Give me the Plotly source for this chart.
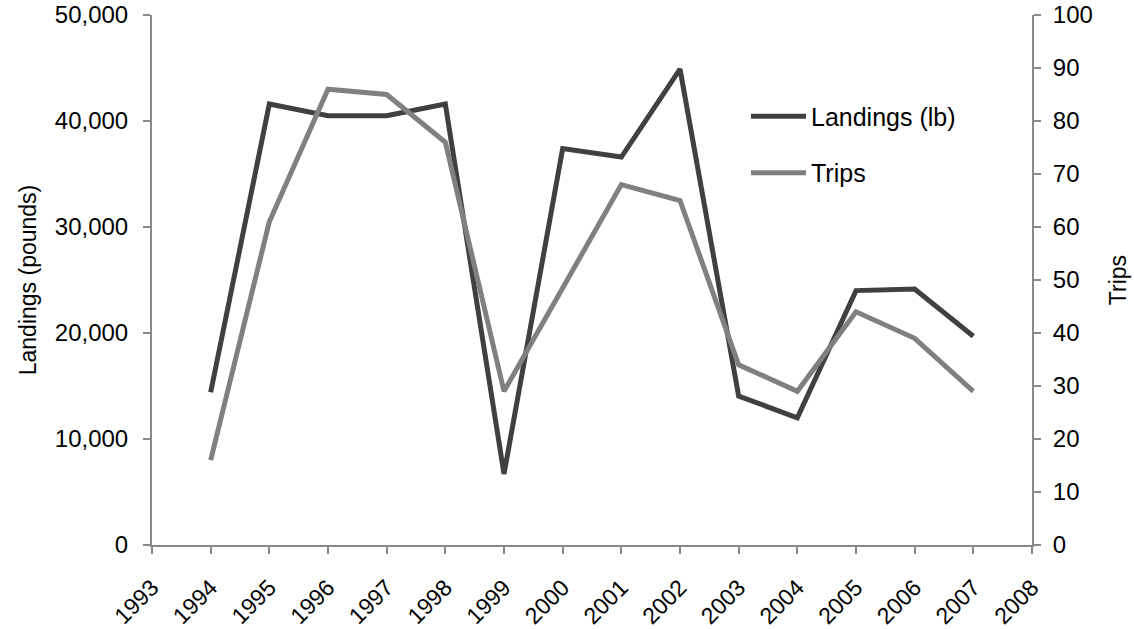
import plotly.graph_objects as go

years = list(range(1994, 2008))
landings = [14400, 41600, 40500, 40500, 41600, 6700, 37400, 36600, 44900, 14050, 12000, 24000, 24150, 19700]
trips = [16, 61, 86, 85, 76, 29, 48.5, 68, 65, 34, 29, 44, 39, 29]
x_ticks = list(range(1993, 2009))
y_left_ticks = [0, 10000, 20000, 30000, 40000, 50000]
y_right_ticks = list(range(0, 101, 10))

font_family = "Liberation Sans, Arial, sans-serif"
axis_color = "#898989"

fig = go.Figure()
fig.add_trace(go.Scatter(x=years, y=landings, mode="lines", name="Landings (lb)",
                         line=dict(color="#404040", width=5), legendgroup="a"))
fig.add_trace(go.Scatter(x=years, y=trips, mode="lines", name="Trips", yaxis="y2",
                         line=dict(color="#808080", width=5), legendgroup="b"))

fig.update_layout(
    width=1134, height=629,
    margin=dict(l=152, r=102, t=15, b=84),
    paper_bgcolor="white", plot_bgcolor="white",
    font=dict(family=font_family, size=24, color="#000000"),
    showlegend=True,
    legend=dict(x=0.675, y=0.852, xanchor="left", yanchor="top",
                font=dict(size=25), tracegroupgap=21, traceorder="grouped",
                bgcolor="rgba(0,0,0,0)", itemwidth=55),
    xaxis=dict(range=[1993, 2008], tickmode="array", tickvals=x_ticks,
               ticktext=[str(v) for v in x_ticks], tickangle=-45, automargin=False,
               showgrid=False, zeroline=False, showline=True, linecolor=axis_color, linewidth=2,
               ticks="outside", ticklen=7, tickcolor=axis_color, tickwidth=1.5,
               ticklabelstandoff=11, ticklabeloverflow="allow",
               tickfont=dict(size=23)),
    yaxis=dict(range=[0, 50000], tickmode="array", tickvals=y_left_ticks,
               ticktext=[f"{v:,}" for v in y_left_ticks], automargin=False,
               showgrid=False, zeroline=False, showline=True, linecolor=axis_color, linewidth=2,
               ticks="outside", ticklen=7, tickcolor=axis_color, tickwidth=1.5,
               ticklabelstandoff=10, ticklabeloverflow="allow",
               title=dict(text="Landings (pounds)", font=dict(size=23), standoff=12),
               tickfont=dict(size=24)),
    yaxis2=dict(range=[0, 100], overlaying="y", side="right", tickmode="array",
                tickvals=y_right_ticks, automargin=False,
                showgrid=False, zeroline=False, showline=True, linecolor=axis_color, linewidth=2,
                ticks="outside", ticklen=7, tickcolor=axis_color, tickwidth=1.5,
                ticklabelstandoff=7, ticklabeloverflow="allow",
                title=dict(text="Trips", font=dict(size=23), standoff=18),
                tickfont=dict(size=24)),
)

fig.write_html("out.html", config={"displayModeBar": False},
               post_script="document.body.style.margin='0';document.body.style.overflow='hidden';")
